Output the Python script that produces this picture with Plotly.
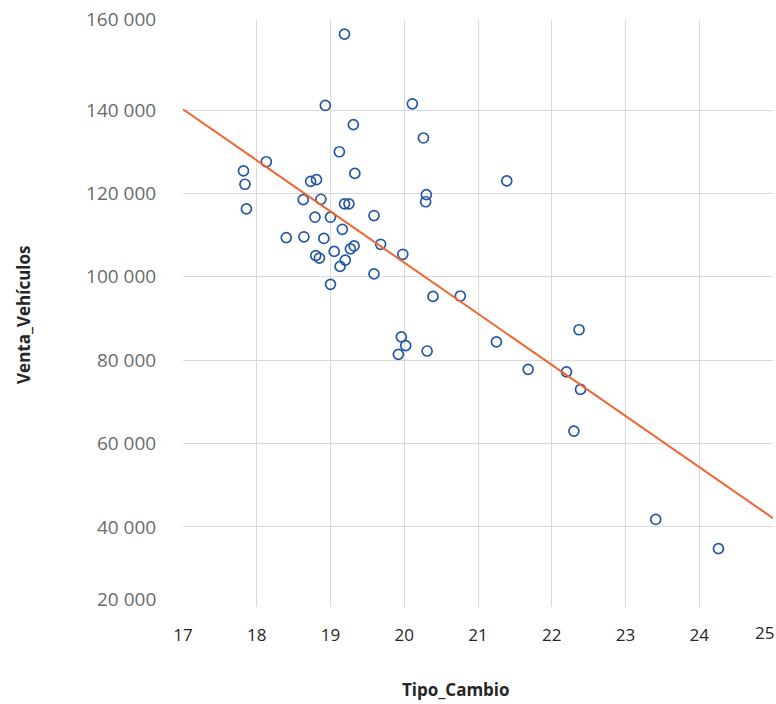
import plotly.graph_objects as go

tipo_cambio = [19.19, 18.93, 20.11, 19.31, 20.26, 19.12, 18.13, 17.82, 17.84, 17.86,
               19.33, 18.73, 18.81, 20.30, 20.29, 18.63, 18.87, 19.19, 19.25, 18.79,
               19.00, 19.59, 19.16, 18.40, 18.64, 18.91, 19.68, 19.32, 19.27, 19.05,
               19.98, 18.80, 18.85, 19.20, 19.13, 19.59, 19.00, 20.39, 20.76, 21.39,
               19.96, 20.02, 19.92, 20.31, 21.25, 21.68, 22.20, 22.37, 22.39, 22.30,
               23.41, 24.26]
venta_vehiculos = [158200, 141100, 141500, 136500, 133300, 130000, 127600, 125400, 122200, 116300,
                   124800, 122900, 123300, 119700, 118000, 118500, 118600, 117500, 117500, 114300,
                   114300, 114700, 111400, 109400, 109600, 109200, 107800, 107400, 106700, 106100,
                   105400, 105100, 104500, 104000, 102500, 100700, 98200, 95300, 95400, 123000,
                   85600, 83500, 81400, 82200, 84400, 77800, 77200, 87300, 73000, 63000,
                   41800, 34800]

trend_x = [17, 25]
trend_y = [140200, 42100]

y_ticks = [40000, 60000, 80000, 100000, 120000, 140000]
x_ticks = [17, 18, 19, 20, 21, 22, 23, 24]

fig = go.Figure()
fig.add_trace(go.Scatter(
    x=tipo_cambio, y=venta_vehiculos, mode="markers",
    marker=dict(symbol="circle-open", size=10, color="#2557a7",
                line=dict(width=1.7, color="#2557a7")),
    showlegend=False, hoverinfo="x+y"))
fig.add_trace(go.Scatter(
    x=trend_x, y=trend_y, mode="lines",
    line=dict(color="#f0652f", width=2), showlegend=False))

tick_font = dict(size=19, color="#6b6b6b")
fig.update_layout(
    width=776, height=704,
    margin=dict(l=183, r=3, t=20, b=97),
    paper_bgcolor="white", plot_bgcolor="white",
    separators=". ",
    font=dict(family="Open Sans, Noto Sans, sans-serif"),
    xaxis=dict(range=[17, 25], tickvals=x_ticks, showgrid=True,
               gridcolor="#d9d9d9", gridwidth=1, zeroline=False,
               showline=False, ticks="outside", ticklen=13,
               tickcolor="rgba(0,0,0,0)",
               tickfont=dict(size=17, color="#262626")),
    yaxis=dict(range=[20800, 161600], tickvals=y_ticks, showgrid=True,
               gridcolor="#d9d9d9", gridwidth=1, zeroline=False,
               showline=False, ticks="outside", ticklen=22,
               tickcolor="rgba(0,0,0,0)", tickformat=",d",
               tickfont=tick_font),
    annotations=[
        dict(text="160 000", xref="paper", yref="paper", x=0, y=1.002,
             xanchor="right", yanchor="middle", xshift=-25, showarrow=False,
             font=tick_font),
        dict(text="20 000", xref="paper", yref="paper", x=0, y=0,
             xanchor="right", yanchor="middle", xshift=-25, yshift=8,
             showarrow=False, font=tick_font),
        dict(text="25", xref="paper", yref="paper", x=1, y=0,
             xanchor="right", yanchor="middle", xshift=3, yshift=-25,
             showarrow=False, font=dict(size=17, color="#262626")),
        dict(text="<b>Tipo_Cambio</b>", xref="paper", yref="paper",
             x=0.463, y=-0.141, xanchor="center", yanchor="middle",
             showarrow=False, font=dict(size=17, color="#262626")),
        dict(text="<b>Venta_Vehículos</b>", xref="paper", yref="paper",
             x=-0.270, y=0.497, xanchor="center", yanchor="middle",
             textangle=-90, showarrow=False,
             font=dict(size=17, color="#262626")),
    ],
)

fig.write_html("out.html")
